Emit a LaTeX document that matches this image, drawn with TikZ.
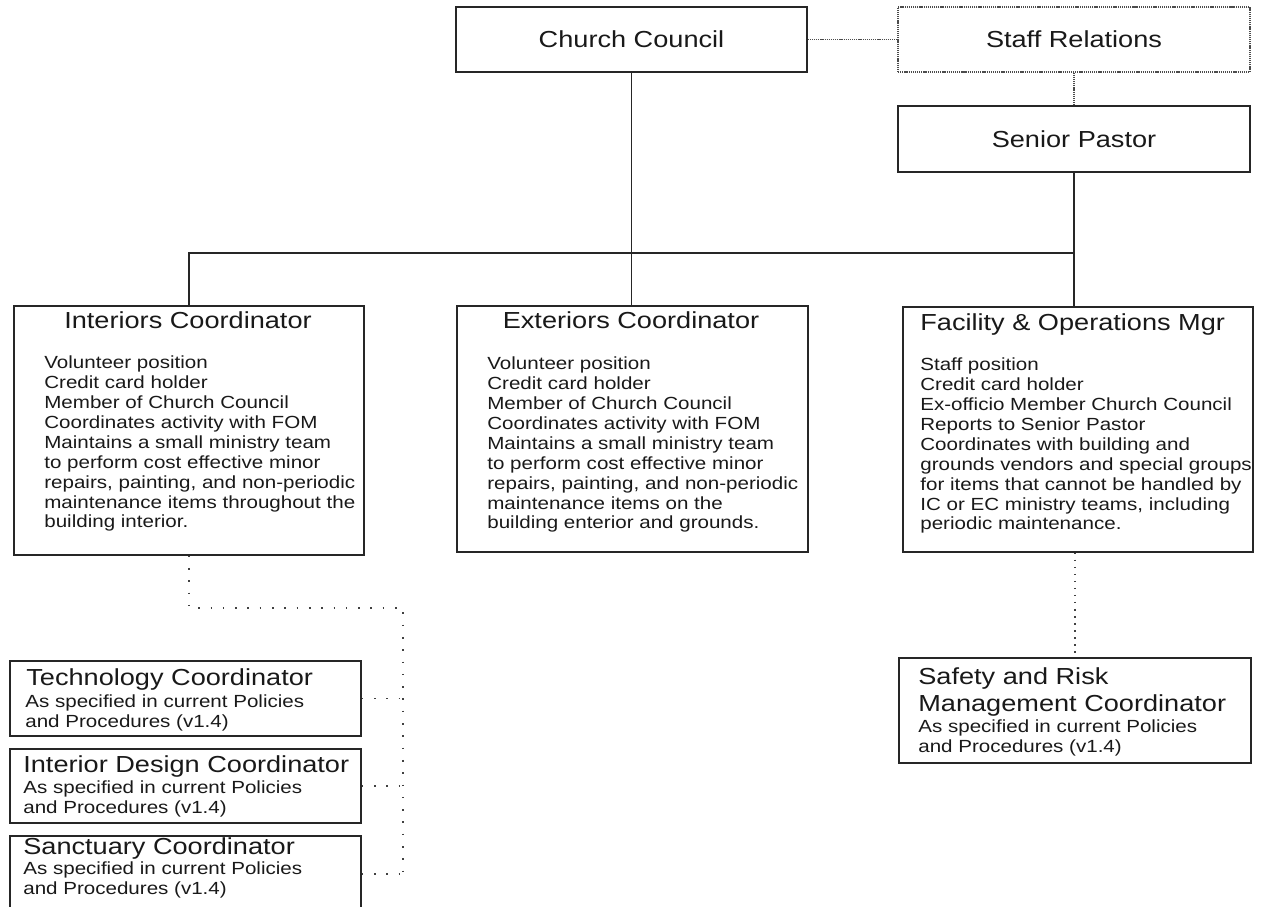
\documentclass[tikz,border=0pt]{standalone}
\usepackage{fontspec}
\setmainfont[FakeStretch=1.17]{Liberation Sans}

\begin{document}
\begin{tikzpicture}
[line join=miter]
\tikzset{post/.style={draw=black!85,line width=0.8pt,minimum width=7cm,inner sep=0pt},
	head/.style={font=\fontsize{13.2}{15.3}\selectfont,text=black!90,inner sep=0pt},
	body/.style={font=\fontsize{10}{11.34}\selectfont,text=black!90,align=left,inner sep=0pt,anchor=north west},
	link/.style={draw=black!85,line width=0.8pt},
	faint/.style={draw=black!70,line width=0.7pt,dash pattern=on 0.7pt off 0.5pt},
	dots/.style={draw=black!75,line width=0.9pt,dash pattern=on 0.9pt off 3.1pt},
	rail/.style={draw=black!75,line width=0.9pt,dash pattern=on 0.9pt off 6.1pt}}
\useasboundingbox (0,0) rectangle (25.38,18.14);

\node [post,head,minimum width=7.02cm,minimum height=1.3cm] (cc) at (12.63,17.35) {Church Council};
\node [post,head,faint,minimum width=7.04cm,minimum height=1.3cm] (sr) at (21.48,17.35) {Staff Relations};
\node [post,head,minimum width=7.04cm,minimum height=1.32cm] (sp) at (21.48,15.36) {Senior Pastor};

\node [post,minimum height=4.98cm] (ic) at (3.78,9.53) {};
\node [post,minimum width=7.02cm,minimum height=4.92cm] (ec) at (12.65,9.56) {};
\node [post,minimum height=4.9cm] (fom) at (21.56,9.55) {};
\node [post,minimum width=7.04cm,minimum height=2.1cm] (sf) at (21.50,3.93) {};
\node [post,minimum width=7.02cm,minimum height=1.5cm] (tc) at (3.71,4.17) {};
\node [post,minimum width=7.02cm,minimum height=1.48cm] (id) at (3.71,2.42) {};
\node [post,minimum width=7.02cm,minimum height=1.52cm] (sc) at (3.71,0.66) {};

\node [head,anchor=base] (ic-head) at (3.76,11.56) {Interiors Coordinator};
\node [body] (ic-body) at (0.88,11.03) {Volunteer position\\Credit card holder\\Member of Church Council\\Coordinates activity with FOM\\Maintains a small ministry team\\to perform cost effective minor\\repairs, painting, and non-periodic\\maintenance items throughout the\\building interior.};
\node [head,anchor=base] (ec-head) at (12.62,11.56) {Exteriors Coordinator};
\node [body] (ec-body) at (9.74,11.01) {Volunteer position\\Credit card holder\\Member of Church Council\\Coordinates activity with FOM\\Maintains a small ministry team\\to perform cost effective minor\\repairs, painting, and non-periodic\\maintenance items on the\\building enterior and grounds.};
\node [head,anchor=base west] (fom-head) at (18.40,11.52) {Facility \& Operations Mgr};
\node [body] (fom-body) at (18.40,10.99) {Staff position\\Credit card holder\\Ex-officio Member Church Council\\Reports to Senior Pastor\\Coordinates with building and\\grounds vendors and special groups\\for items that cannot be handled by\\IC or EC ministry teams, including\\periodic maintenance.};
\node [head,align=left,anchor=north west] (sf-head) at (18.36,4.80) {Safety and Risk\\Management Coordinator};
\node [body] (sf-body) at (18.36,3.75) {As specified in current Policies\\and Procedures (v1.4)};
\node [head,anchor=base west] (tc-head) at (0.52,4.42) {Technology Coordinator};
\node [body] (tc-body) at (0.50,4.25) {As specified in current Policies\\and Procedures (v1.4)};
\node [head,anchor=base west] (id-head) at (0.46,2.68) {Interior Design Coordinator};
\node [body] (id-body) at (0.46,2.53) {As specified in current Policies\\and Procedures (v1.4)};
\node [head,anchor=base west] (sc-head) at (0.46,1.05) {Sanctuary Coordinator};
\node [body] (sc-body) at (0.46,0.92) {As specified in current Policies\\and Procedures (v1.4)};

\coordinate (bus) at (0,13.08);
\coordinate (turn) at (8.06,5.98);

\draw [link] (cc.south) -- (cc.south |- ec.north);
\draw [link] (sp.south) -- (sp.south |- fom.north);
\draw [link] (ic.north) -- (ic.north |- bus) -- (sp.south |- bus);
\draw [faint] (cc.east) -- (sr.west);
\draw [faint] (sr.south) -- (sp.north);
\draw [dots] (sf.north |- fom.south) -- (sf.north);
\draw [rail] (ic.south) -- (ic.south |- turn) -- (turn) -- (turn |- sc.east);
\foreach \unit in {tc,id,sc}
	\draw [rail] (\unit.east) -- (\unit.east -| turn);

\end{tikzpicture}
\end{document}
